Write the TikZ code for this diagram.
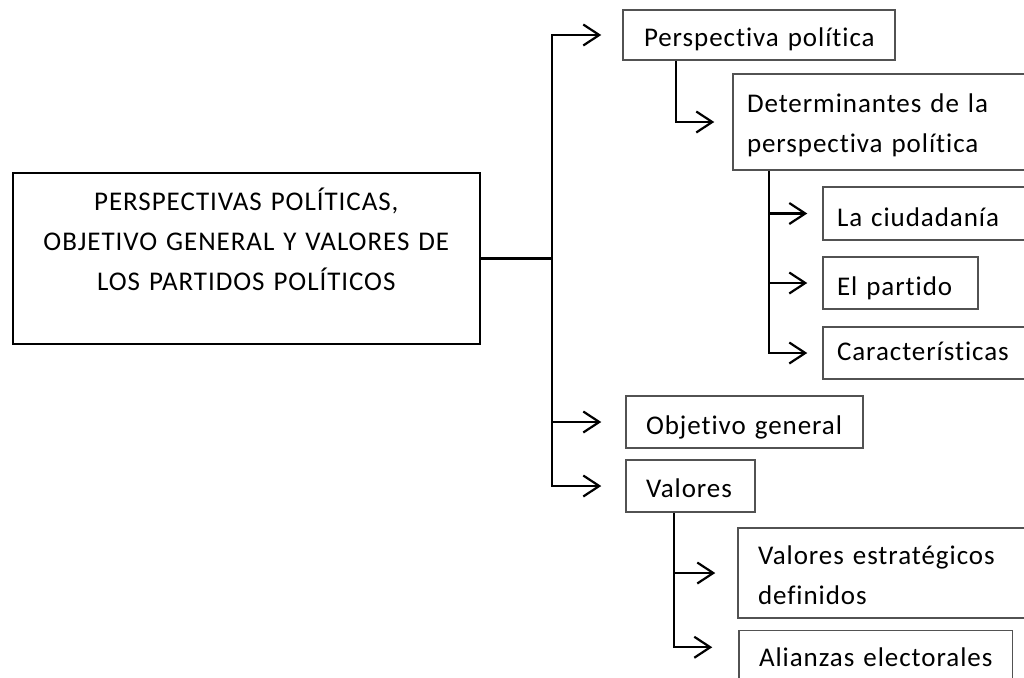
\documentclass[tikz,border=0pt]{standalone}
\usepackage{fontspec}
\setmainfont{Carlito}[LetterSpace=3.5,Ligatures={NoCommon,NoRare,NoDiscretionary}]
\usetikzlibrary{arrows.meta}
\begin{document}
\begin{tikzpicture}[x=1pt,y=-1pt,
  txt/.style={font=\fontsize{27pt}{40pt}\selectfont},
  box/.style={txt,draw=black!68,line width=1.5pt,inner sep=0pt,align=left,text height=0pt,text depth=0pt},
  mainbox/.style={txt,draw=black,line width=2pt,inner sep=0pt,align=center},
  conn/.style={draw=black,line width=2.2pt},
  arr/.style={conn,-{Straight Barb[length=16pt,width=21pt]}}
]
\useasboundingbox (0,0) rectangle (1024,677);
\clip (0,0) rectangle (1024,677);
\fill[white] (0,0) rectangle (1024,677);

\node[mainbox,minimum width=467.3pt,minimum height=171.6pt,text width=440pt,text height=0pt,text depth=95.6pt] (main) at (246.35,258.5)
  {PERSPECTIVAS~POLÍTICAS,\\OBJETIVO~GENERAL~Y~VALORES~DE\\LOS~PARTIDOS~POLÍTICOS};

\node[box,minimum width=272pt,minimum height=50pt,text width=230pt,text height=23.4pt] (pp) at (759,35) {Perspectiva~política};
\node[box,minimum width=297pt,minimum height=96pt,text width=269pt,text depth=19pt] (det) at (881.5,122) {Determinantes~de~la\\perspectiva~política};
\node[box,minimum width=207pt,minimum height=53pt,text width=179pt,text height=25pt] (lc) at (926.5,213.5) {La~ciudadanía};
\node[box,minimum width=155pt,minimum height=52pt,text width=127pt,text height=24pt] (ep) at (900.5,283) {El~partido};
\node[box,minimum width=207pt,minimum height=52pt,text width=179pt,text height=14pt] (car) at (926.5,353) {Características};
\node[box,minimum width=237pt,minimum height=52pt,text width=197pt,text height=24pt] (obj) at (744.5,422) {Objetivo~general};
\node[box,minimum width=129pt,minimum height=52pt,text width=89pt,text height=23.4pt] (val) at (690.5,486) {Valores};
\node[box,minimum width=292pt,minimum height=90pt,text width=252pt,text depth=18pt] (ve) at (884,573) {Valores~estratégicos\\definidos};
\node[box,minimum width=273.7pt,minimum height=69.3pt,text width=233.7pt,text height=2.7pt] (al) at (875.85,665.35) {Alianzas~electorales};

% main trunk
\draw[conn] (main.east) -- ++(71,0) coordinate (tr);
\draw[arr] (tr) |- ([xshift=-21pt]pp.west);
\draw[arr] (tr) |- ([xshift=-24pt]val.west);
\draw[arr] (tr |- obj.west) -- ([xshift=-24pt]obj.west);

% perspectiva -> determinantes
\draw[arr] ([xshift=-83pt]pp.south) |- ([xshift=-18pt]det.west);

% determinantes -> children
\coordinate (dt) at ([xshift=-112.5pt]det.south);
\draw[arr] (dt) |- ([xshift=-15pt]car.west);
\draw[arr] (dt |- lc.west) -- ([xshift=-15pt]lc.west);
\draw[arr] (dt |- ep.west) -- ([xshift=-15pt]ep.west);

% valores -> children
\coordinate (vt) at ([xshift=-16.5pt]val.south);
\draw[arr] (vt) |- ([xshift=-26pt,yshift=-17.3pt]al.north west);
\draw[arr] (vt |- ve.west) -- ([xshift=-22pt]ve.west);
\end{tikzpicture}
\end{document}
